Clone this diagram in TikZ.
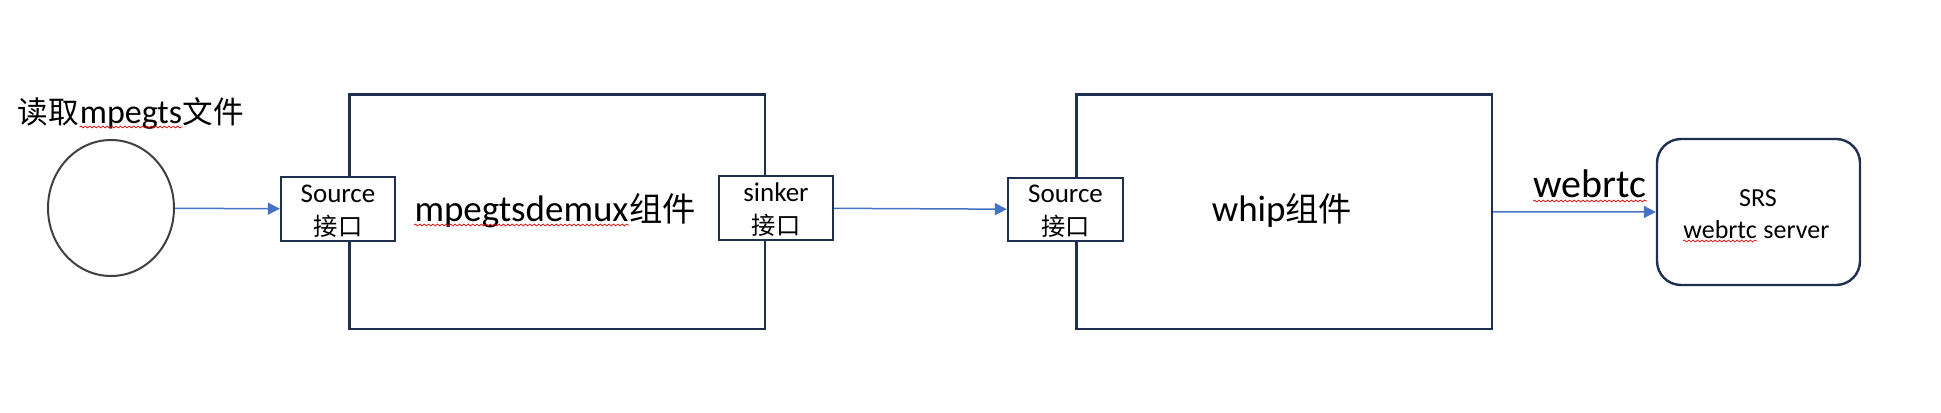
\documentclass[tikz,border=0pt]{standalone}
\usepackage{fontspec}
\setmainfont{Carlito}
\newfontfamily\cjkf{Noto Sans CJK SC}[Scale=0.9]
\usetikzlibrary{shapes.geometric,arrows.meta,decorations.pathmorphing,calc}
\definecolor{boxc}{HTML}{1F2F50}
\definecolor{arrc}{HTML}{4472C4}
\definecolor{ellc}{HTML}{404040}
\tikzset{
  bigbox/.style={draw=boxc, line width=1.2pt, minimum width=207.75pt, minimum height=117.25pt, inner sep=0pt},
  portbox/.style={draw=boxc, fill=white, line width=1.2pt, inner sep=0pt},
  porttext/.style={inner sep=0pt, align=center, yshift=-1pt, font=\fontsize{13.5}{16.5}\selectfont},
  conn/.style={draw=arrc, line width=0.75pt, -{Triangle[length=6pt,width=6pt]}},
  lbl/.style={inner sep=0pt},
  wave/.style={draw=red!85!black, line width=0.35pt, decorate, decoration={snake, segment length=2.2pt, amplitude=0.45pt}}
}
\begin{document}
\begin{tikzpicture}[x=0.5pt,y=-0.5pt]
\useasboundingbox (0,0) rectangle (1941,412);
% source file
\node[lbl, anchor=base, font=\fontsize{17}{20}\selectfont] (t2) at (131,123) {mpegts};
\node[lbl, anchor=base east, font=\fontsize{17}{20}\selectfont\cjkf] (t1) at (t2.base west) {读取};
\node[lbl, anchor=base west, font=\fontsize{17}{20}\selectfont\cjkf] (t3) at (t2.base east) {文件};
\draw[wave] ($(t2.base west)+(0,4)$) -- ($(t2.base east)+(0,4)$);
\node[draw=ellc, line width=1pt, ellipse, minimum width=63pt, minimum height=68pt, inner sep=0pt] (ell) at (111,208) {};
% mpegtsdemux
\node[bigbox] (box1) at (557.25,211.75) {};
\node[lbl, anchor=base, font=\fontsize{18.5}{22}\selectfont] (l1a) at (521.5,221) {mpegtsdemux};
\node[lbl, anchor=base west, font=\fontsize{18.5}{22}\selectfont\cjkf] (l1b) at (l1a.base east) {组件};
\draw[wave] ($(l1a.base west)+(0,4)$) -- ($(l1a.base east)+(0,4)$);
\node[portbox, minimum width=57pt, minimum height=32pt] (src1) at (338,209) {};
\node[porttext] (src1t) at (src1) {Source\\{\cjkf 接口}};
\node[portbox, minimum width=57pt, minimum height=32pt] (sink) at (776,208) {};
\node[porttext] (sinkt) at (sink) {sinker\\{\cjkf 接口}};
% whip
\node[bigbox] (box2) at (1284.25,211.75) {};
\node[lbl, anchor=base, font=\fontsize{18.5}{22}\selectfont] (l2) at (1282,221) {whip{\cjkf 组件}};
\node[portbox, minimum width=57.5pt, minimum height=31.5pt] (src2) at (1065.5,209.5) {};
\node[porttext] (src2t) at (src2) {Source\\{\cjkf 接口}};
% SRS
\node[draw=boxc, line width=1.2pt, rounded corners=12pt, minimum width=101.5pt, minimum height=73pt, inner sep=0pt] (srs) at (1758.5,212) {};
\node[lbl, anchor=base, font=\fontsize{13}{16}\selectfont] (s1) at (1758,206) {SRS};
\node[lbl, anchor=base west, font=\fontsize{13}{16}\selectfont] (s2a) at (1683,238) {webrtc};
\node[lbl, anchor=base west, xshift=2.9pt, font=\fontsize{13}{16}\selectfont] (s2b) at (s2a.base east) {server};
\draw[wave] ($(s2a.base west)+(0,3)$) -- ($(s2a.base east)+(0,3)$);
\node[lbl, anchor=base, font=\fontsize{20}{24}\selectfont] (l3) at (1590,197) {webrtc};
\draw[wave] ($(l3.base west)+(0,4)$) -- ($(l3.base east)+(0,4)$);
% connectors
\draw[conn] (ell) -- (src1);
\draw[conn] (sink) -- (src2);
\draw[conn] (box2) -- (srs);
\end{tikzpicture}
\end{document}
